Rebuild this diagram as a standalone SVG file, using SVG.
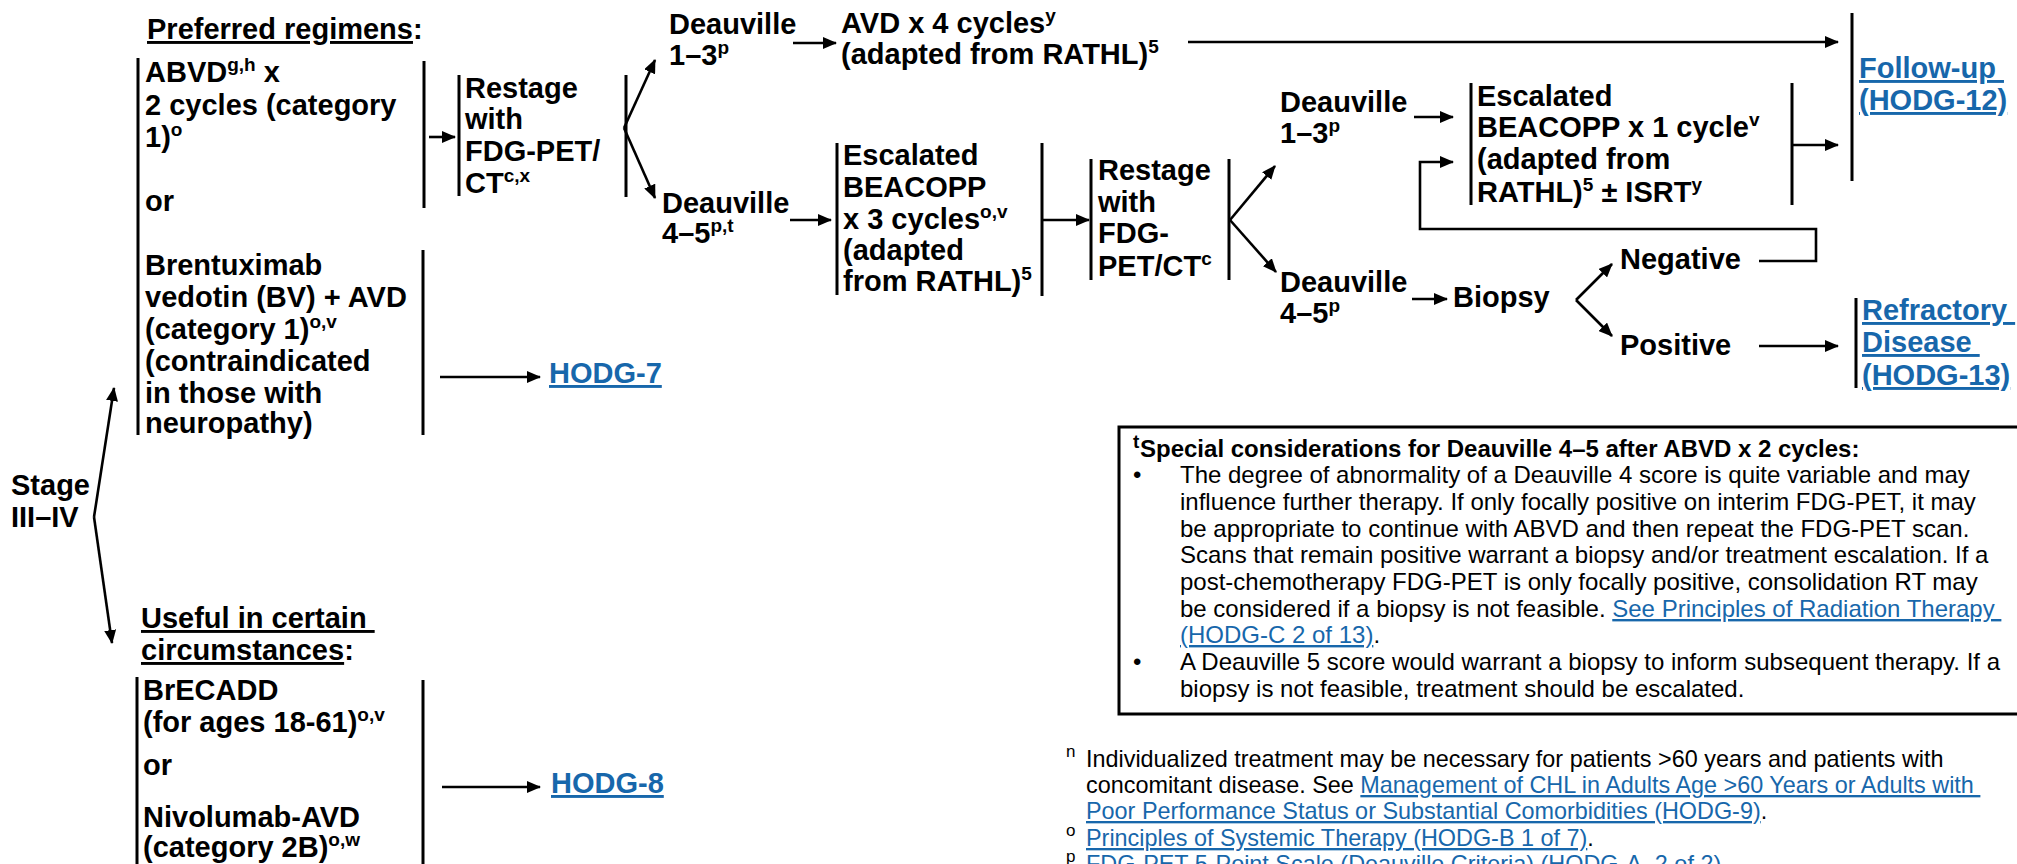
<svg xmlns="http://www.w3.org/2000/svg" width="2017" height="864" viewBox="0 0 2017 864">
  <style>
    text { font-family: "Liberation Sans", Arial, sans-serif; fill: #000; }
    .b { font-size: 29px; font-weight: bold; }
    .sup { font-size: 19px; }
    .fsup { font-size: 17px; }
    .u { text-decoration: underline; }
    .link { fill: #1767ab; text-decoration: underline; }
    .note { font-size: 24px; }
    .fn { font-size: 23.4px; }
    .bar { stroke: #000; stroke-width: 3; fill: none; }
    .wire { stroke: #000; stroke-width: 2.6; fill: none; }
    .arr { marker-end: url(#head); }
  </style>
  <defs>
    <marker id="head" viewBox="0 0 14 12" markerWidth="14" markerHeight="12" refX="13" refY="6" orient="auto" markerUnits="userSpaceOnUse">
      <path d="M0,0 L14,6 L0,12 z" fill="#000"/>
    </marker>
  </defs>
  <rect width="2017" height="864" fill="#fff"/>

  <!-- connectors -->
  <g id="connectors">
    <!-- Stage fork -->
    <polyline class="wire arr" points="94,517 114,388"/>
    <polyline class="wire arr" points="94,517 112,643"/>
    <!-- preferred regimen to restage -->
    <line class="wire arr" x1="429" y1="137" x2="455" y2="137"/>
    <!-- restage fork -->
    <line class="wire arr" x1="624" y1="128" x2="655" y2="60"/>
    <line class="wire arr" x1="624" y1="128" x2="655" y2="198"/>
    <!-- Deauville 1-3 to AVD -->
    <line class="wire arr" x1="793" y1="43" x2="836" y2="43"/>
    <!-- AVD to follow-up -->
    <line class="wire arr" x1="1188" y1="42" x2="1838" y2="42"/>
    <!-- Deauville 4-5 to escalated -->
    <line class="wire arr" x1="790" y1="220" x2="831" y2="220"/>
    <!-- escalated to restage -->
    <line class="wire arr" x1="1042" y1="220" x2="1089" y2="220"/>
    <!-- second restage fork -->
    <line class="wire arr" x1="1230" y1="220" x2="1275" y2="166"/>
    <line class="wire arr" x1="1230" y1="220" x2="1276" y2="272"/>
    <!-- Deauville 1-3 to escalated x1 -->
    <line class="wire arr" x1="1414" y1="117" x2="1453" y2="117"/>
    <!-- escalated x1 to follow-up -->
    <line class="wire arr" x1="1792" y1="145" x2="1838" y2="145"/>
    <!-- Deauville 4-5 to biopsy -->
    <line class="wire arr" x1="1412" y1="299" x2="1447" y2="299"/>
    <!-- biopsy fork -->
    <line class="wire arr" x1="1576" y1="300" x2="1612" y2="264"/>
    <line class="wire arr" x1="1576" y1="300" x2="1612" y2="336"/>
    <!-- negative back to escalated x1 -->
    <polyline class="wire arr" points="1759,261 1816,261 1816,229 1420,229 1420,162 1453,162"/>
    <!-- positive to refractory -->
    <line class="wire arr" x1="1759" y1="346" x2="1838" y2="346"/>
    <!-- to HODG-7 / HODG-8 -->
    <line class="wire arr" x1="440" y1="377" x2="540" y2="377"/>
    <line class="wire arr" x1="442" y1="787" x2="540" y2="787"/>
  </g>

  <g id="stage">
    <text class="b" x="11" y="495">Stage</text>
    <text class="b" x="11" y="527">III–IV</text>
  </g>

  <g id="preferred-heading">
    <text class="b" x="147" y="39"><tspan class="u">Preferred regimens</tspan>:</text>
  </g>

  <g id="preferred">
    <line class="bar" x1="138" y1="58" x2="138" y2="435"/>
    <line class="bar" x1="424" y1="61" x2="424" y2="208"/>
    <line class="bar" x1="423" y1="250" x2="423" y2="435"/>
    <text class="b" x="145" y="82">ABVD<tspan class="sup" dy="-11">g,h</tspan><tspan dy="11"> x</tspan></text>
    <text class="b" x="145" y="115">2 cycles (category</text>
    <text class="b" x="145" y="147">1)<tspan class="sup" dy="-11">o</tspan></text>
    <text class="b" x="145" y="211">or</text>
    <text class="b" x="145" y="275">Brentuximab</text>
    <text class="b" x="145" y="307">vedotin (BV) + AVD</text>
    <text class="b" x="145" y="339">(category 1)<tspan class="sup" dy="-11">o,v</tspan></text>
    <text class="b" x="145" y="371">(contraindicated</text>
    <text class="b" x="145" y="403">in those with</text>
    <text class="b" x="145" y="433">neuropathy)</text>
  </g>

  <g id="restage-1">
    <line class="bar" x1="459" y1="75" x2="459" y2="196"/>
    <line class="bar" x1="626" y1="75" x2="626" y2="197"/>
    <text class="b" x="465" y="98">Restage</text>
    <text class="b" x="465" y="129">with</text>
    <text class="b" x="465" y="161">FDG-PET/</text>
    <text class="b" x="465" y="193">CT<tspan class="sup" dy="-11">c,x</tspan></text>
  </g>

  <g id="deauville-1-3-a">
    <text class="b" x="669" y="34">Deauville</text>
    <text class="b" x="669" y="65">1–3<tspan class="sup" dy="-11">p</tspan></text>
  </g>

  <g id="avd">
    <text class="b" x="841" y="33">AVD x 4 cycles<tspan class="sup" dy="-11">y</tspan></text>
    <text class="b" x="841" y="64">(adapted from RATHL)<tspan class="sup" dy="-11">5</tspan></text>
  </g>

  <g id="deauville-4-5-a">
    <text class="b" x="662" y="213">Deauville</text>
    <text class="b" x="662" y="243">4–5<tspan class="sup" dy="-11">p,t</tspan></text>
  </g>

  <g id="escalated-3">
    <line class="bar" x1="837" y1="143" x2="837" y2="295"/>
    <line class="bar" x1="1042" y1="143" x2="1042" y2="296"/>
    <text class="b" x="843" y="165">Escalated</text>
    <text class="b" x="843" y="197">BEACOPP</text>
    <text class="b" x="843" y="229">x 3 cycles<tspan class="sup" dy="-11">o,v</tspan></text>
    <text class="b" x="843" y="260">(adapted</text>
    <text class="b" x="843" y="291">from RATHL)<tspan class="sup" dy="-11">5</tspan></text>
  </g>

  <g id="restage-2">
    <line class="bar" x1="1091" y1="159" x2="1091" y2="280"/>
    <line class="bar" x1="1229" y1="159" x2="1229" y2="280"/>
    <text class="b" x="1098" y="180">Restage</text>
    <text class="b" x="1098" y="212">with</text>
    <text class="b" x="1098" y="243">FDG-</text>
    <text class="b" x="1098" y="276">PET/CT<tspan class="sup" dy="-11">c</tspan></text>
  </g>

  <g id="deauville-1-3-b">
    <text class="b" x="1280" y="112">Deauville</text>
    <text class="b" x="1280" y="143">1–3<tspan class="sup" dy="-11">p</tspan></text>
  </g>

  <g id="escalated-1">
    <line class="bar" x1="1471" y1="83" x2="1471" y2="205"/>
    <line class="bar" x1="1792" y1="83" x2="1792" y2="205"/>
    <text class="b" x="1477" y="106">Escalated</text>
    <text class="b" x="1477" y="137">BEACOPP x 1 cycle<tspan class="sup" dy="-11">v</tspan></text>
    <text class="b" x="1477" y="169">(adapted from</text>
    <text class="b" x="1477" y="202">RATHL)<tspan class="sup" dy="-11">5</tspan><tspan dy="11"> ± ISRT</tspan><tspan class="sup" dy="-11">y</tspan></text>
  </g>

  <g id="follow-up">
    <line class="bar" x1="1852" y1="13" x2="1852" y2="181"/>
    <text class="b link" x="1859" y="78" xml:space="preserve">Follow-up </text>
    <text class="b link" x="1859" y="110">(HODG-12)</text>
  </g>

  <g id="deauville-4-5-b">
    <text class="b" x="1280" y="292">Deauville</text>
    <text class="b" x="1280" y="323">4–5<tspan class="sup" dy="-11">p</tspan></text>
  </g>

  <g id="biopsy">
    <text class="b" x="1453" y="307">Biopsy</text>
  </g>

  <g id="negative">
    <text class="b" x="1620" y="269">Negative</text>
  </g>

  <g id="positive">
    <text class="b" x="1620" y="355">Positive</text>
  </g>

  <g id="refractory">
    <line class="bar" x1="1856" y1="298" x2="1856" y2="388"/>
    <text class="b link" x="1862" y="320" xml:space="preserve">Refractory </text>
    <text class="b link" x="1862" y="352" xml:space="preserve">Disease </text>
    <text class="b link" x="1862" y="385">(HODG-13)</text>
  </g>

  <g id="hodg-7">
    <text class="b link" x="549" y="383">HODG-7</text>
  </g>

  <g id="useful-heading">
    <text class="b" x="141" y="628" xml:space="preserve"><tspan class="u">Useful in certain </tspan></text>
    <text class="b" x="141" y="660"><tspan class="u">circumstances</tspan>:</text>
  </g>

  <g id="useful">
    <line class="bar" x1="137" y1="677" x2="137" y2="866"/>
    <line class="bar" x1="423" y1="680" x2="423" y2="866"/>
    <text class="b" x="143" y="700">BrECADD</text>
    <text class="b" x="143" y="732">(for ages 18-61)<tspan class="sup" dy="-11">o,v</tspan></text>
    <text class="b" x="143" y="775">or</text>
    <text class="b" x="143" y="827">Nivolumab-AVD</text>
    <text class="b" x="143" y="857">(category 2B)<tspan class="sup" dy="-11">o,w</tspan></text>
  </g>

  <g id="hodg-8">
    <text class="b link" x="551" y="793">HODG-8</text>
  </g>

  <g id="considerations">
    <rect x="1119" y="427" width="920" height="287" fill="none" stroke="#000" stroke-width="3"/>
    <text class="note" x="1133" y="448" style="font-weight:bold;font-size:19px">t</text>
    <text class="note" x="1140" y="457" style="font-weight:bold">Special considerations for Deauville 4–5 after ABVD x 2 cycles:</text>
    <text class="note" x="1133" y="483">•</text>
    <text class="note" x="1180" y="483">The degree of abnormality of a Deauville 4 score is quite variable and may</text>
    <text class="note" x="1180" y="510">influence further therapy. If only focally positive on interim FDG-PET, it may</text>
    <text class="note" x="1180" y="537">be appropriate to continue with ABVD and then repeat the FDG-PET scan.</text>
    <text class="note" x="1180" y="563">Scans that remain positive warrant a biopsy and/or treatment escalation. If a</text>
    <text class="note" x="1180" y="590">post-chemotherapy FDG-PET is only focally positive, consolidation RT may</text>
    <text class="note" x="1180" y="617" xml:space="preserve">be considered if a biopsy is not feasible. <tspan class="link">See Principles of Radiation Therapy </tspan></text>
    <text class="note" x="1180" y="643"><tspan class="link">(HODG-C 2 of 13)</tspan>.</text>
    <text class="note" x="1133" y="670">•</text>
    <text class="note" x="1180" y="670">A Deauville 5 score would warrant a biopsy to inform subsequent therapy. If a</text>
    <text class="note" x="1180" y="697">biopsy is not feasible, treatment should be escalated.</text>
  </g>

  <g id="footnotes">
    <text class="fsup" x="1066" y="757">n</text>
    <text class="fn" x="1086" y="767">Individualized treatment may be necessary for patients &gt;60 years and patients with</text>
    <text class="fn" x="1086" y="793" xml:space="preserve">concomitant disease. See <tspan class="link">Management of CHL in Adults Age &gt;60 Years or Adults with </tspan></text>
    <text class="fn" x="1086" y="819"><tspan class="link">Poor Performance Status or Substantial Comorbidities (HODG-9)</tspan>.</text>
    <text class="fsup" x="1066" y="836">o</text>
    <text class="fn" x="1086" y="846"><tspan class="link">Principles of Systemic Therapy (HODG-B 1 of 7)</tspan>.</text>
    <text class="fsup" x="1066" y="862">p</text>
    <text class="fn" x="1086" y="872"><tspan class="link">FDG-PET 5-Point Scale (Deauville Criteria) (HODG-A, 2 of 2)</tspan>.</text>
  </g>
</svg>
